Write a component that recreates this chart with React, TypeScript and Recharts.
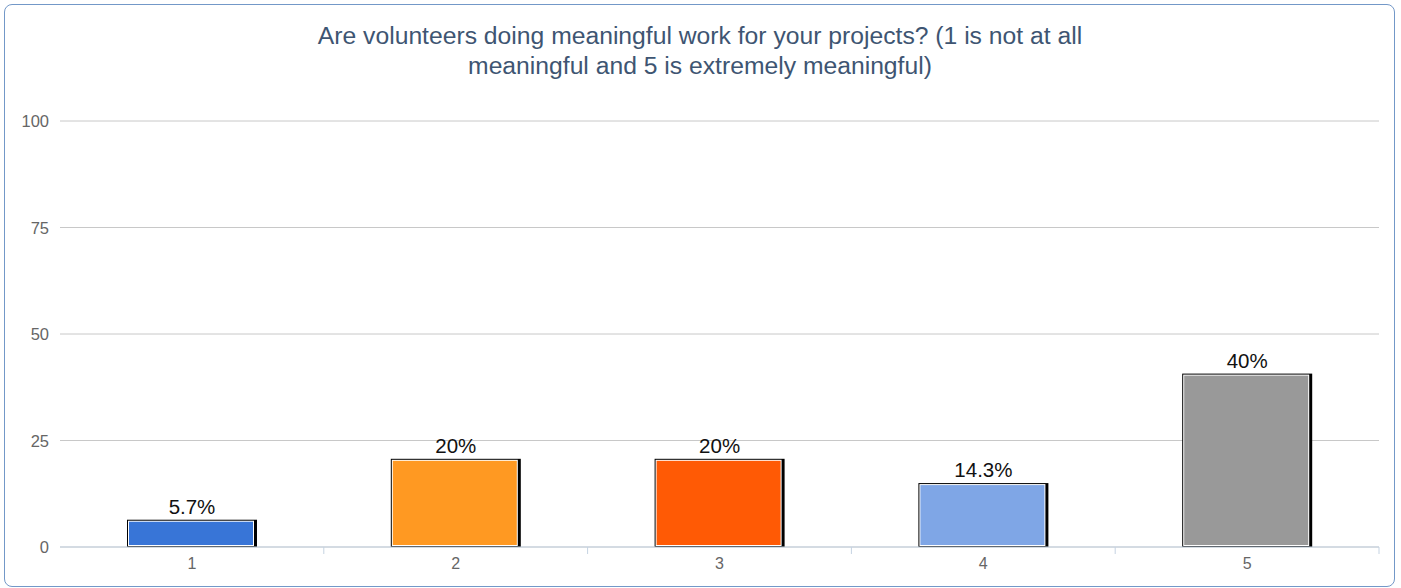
import React from "react";
import { BarChart, Bar, XAxis, YAxis, CartesianGrid, LabelList, Cell } from "recharts";

const categories = ["1", "2", "3", "4", "5"];
const percentValues = [5.7, 20, 20, 14.3, 40];
const percentLabels = ["5.7%", "20%", "20%", "14.3%", "40%"];
const yTicks = [0, 25, 50, 75, 100];
const barColors = ["#3875d7", "#ff9922", "#ff5a05", "#7fa6e6", "#999999"];

const data = categories.map((name, i) => ({
  name,
  value: percentValues[i],
  label: percentLabels[i],
}));

const W = 1401;
const H = 588;
const plotLeft = 60;
const plotRight = 1379;
const plotBottom = 547;
const bandWidth = (plotRight - plotLeft) / categories.length;
const FONT = "Liberation Sans, Arial, sans-serif";

// black outline (drawn outside the value, heavier on the right), thin white gap, then the fill
function FramedBar(props: any) {
  const { x, y: y0, width, height: h0, fill } = props;
  if (!h0 || h0 <= 0) return null;
  const y = y0 - 3;
  const height = h0 + 3;
  return (
    <g>
      <rect x={x} y={y} width={width} height={height} fill="#000" />
      <rect x={x + 1} y={y + 1} width={width - 4} height={height - 2} fill="#fff" />
      <rect x={x + 2} y={y + 2} width={width - 6} height={height - 4} fill={fill} />
    </g>
  );
}

function XTick(props: any) {
  const { x, payload } = props;
  const edge = x + bandWidth / 2;
  return (
    <g>
      <line x1={edge} y1={plotBottom} x2={edge} y2={plotBottom + 7} stroke="#c5d3e2" strokeWidth={1} />
      <text x={x} y={plotBottom + 22} textAnchor="middle" fill="#666" style={{ fontSize: 16, fontFamily: FONT }}>
        {payload.value}
      </text>
    </g>
  );
}

function YTick(props: any) {
  const { y, payload } = props;
  return (
    <text x={49} y={y + 6} textAnchor="end" fill="#666" style={{ fontSize: 16.5, fontFamily: FONT }}>
      {payload.value}
    </text>
  );
}

export default function App() {
  return (
    <div style={{ position: "absolute", left: 0, top: 0, width: W, height: H, background: "#fff" }}>
      <div
        style={{
          position: "absolute",
          left: 4,
          top: 4,
          width: 1389,
          height: 581,
          border: "1.5px solid #7398c8",
          borderRadius: 8,
        }}
      />
      <div
        style={{
          position: "absolute",
          left: 5,
          top: 21,
          width: 1390,
          textAlign: "center",
          fontFamily: FONT,
          fontSize: 24.7,
          lineHeight: "30px",
          color: "#3e5572",
        }}
      >
        Are volunteers doing meaningful work for your projects? (1 is not at all
        <br />
        meaningful and 5 is extremely meaningful)
      </div>
      <div style={{ position: "absolute", left: 0, top: 0 }}>
        <BarChart
          width={W}
          height={H}
          data={data}
          margin={{ top: 121, right: W - plotRight, bottom: 0, left: 0 }}
        >
          <CartesianGrid horizontal vertical={false} stroke="#c8c8c8" />
          <YAxis
            width={plotLeft}
            domain={[0, 100]}
            ticks={yTicks}
            axisLine={false}
            tickLine={false}
            tick={<YTick />}
          />
          <XAxis
            dataKey="name"
            axisLine={{ stroke: "#c5d3e2" }}
            tickLine={false}
            tick={<XTick />}
            interval={0}
            height={H - plotBottom}
          />
          <Bar dataKey="value" barSize={130} shape={<FramedBar />} isAnimationActive={false}>
            {data.map((d, i) => (
              <Cell key={d.name} fill={barColors[i]} />
            ))}
            <LabelList
              dataKey="label"
              position="top"
              offset={9}
              fill="#111"
              style={{ fontSize: 20.5, fontFamily: FONT }}
            />
          </Bar>
        </BarChart>
      </div>
    </div>
  );
}
